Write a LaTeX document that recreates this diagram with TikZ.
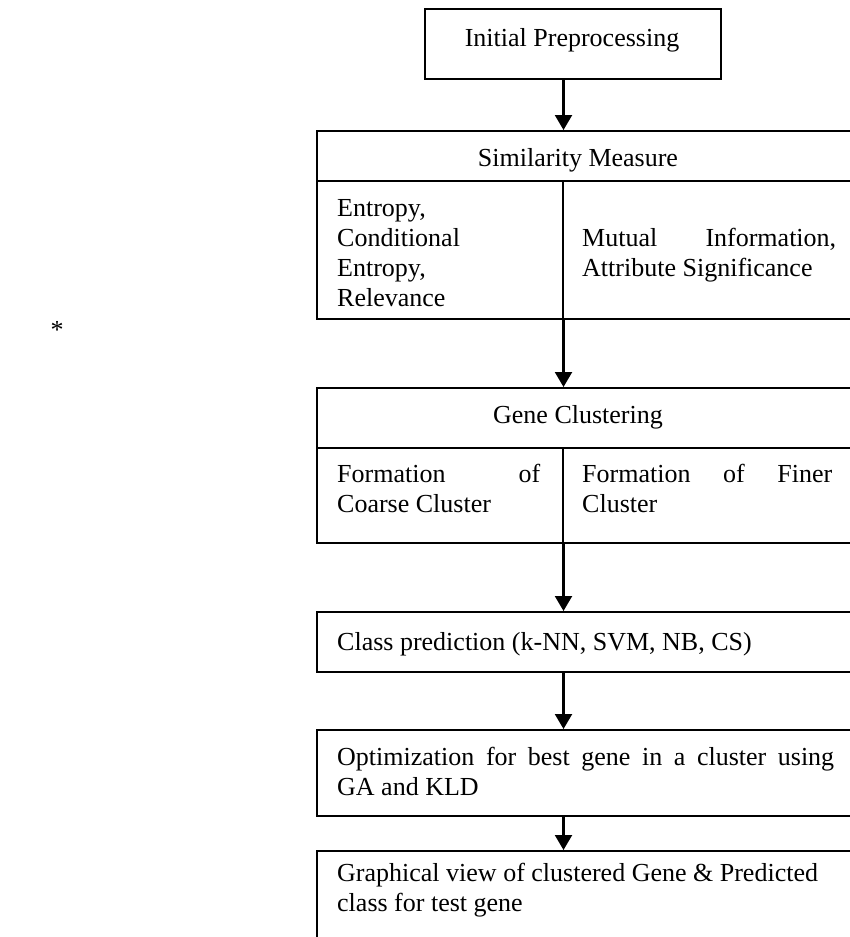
\documentclass[tikz,border=0pt]{standalone}
\usepackage{fontspec}
\setmainfont{Liberation Serif}
\usetikzlibrary{arrows.meta}
\begin{document}
\begin{tikzpicture}[x=1pt,y=-1pt,
  box/.style={draw, line width=1.5pt, rectangle, inner sep=0pt, anchor=north west},
  txt/.style={inner sep=0pt, font=\fontsize{26}{30}\selectfont},
  flow/.style={line width=2.2pt, -{Triangle[width=17pt,length=15pt]}}]
\useasboundingbox (0,0) rectangle (850,937);
\clip (0,0) rectangle (850,937);
% boxes
\node[box, minimum width=296pt, minimum height=70pt] (init) at (424,8) {};
\node[box, minimum width=560pt, minimum height=50pt] (simhead) at (316,130) {};
\node[box, minimum width=246pt, minimum height=138pt] (simL) at (316,180) {};
\node[box, minimum width=314pt, minimum height=138pt] (simR) at (562,180) {};
\node[box, minimum width=560pt, minimum height=60pt] (genehead) at (316,387) {};
\node[box, minimum width=246pt, minimum height=95pt] (geneL) at (316,447) {};
\node[box, minimum width=314pt, minimum height=95pt] (geneR) at (562,447) {};
\node[box, minimum width=560pt, minimum height=60pt] (cls) at (316,611) {};
\node[box, minimum width=560pt, minimum height=86pt] (opt) at (316,729) {};
\node[box, minimum width=560pt, minimum height=140pt] (gra) at (316,850) {};
% texts
\node[txt, anchor=base] (tinit) at (572,46) {Initial Preprocessing};
\node[txt, anchor=base] (tsim) at (578,166) {Similarity Measure};
\node[txt, anchor=base west] (tsimL) at (337,216) {\parbox[t]{203pt}{Entropy,\\Conditional\\Entropy,\\Relevance}};
\node[txt, anchor=base west] (tsimR) at (582,246) {\parbox[t]{254pt}{Mutual\hfill Information,\\Attribute Significance}};
\node[txt, anchor=base] (tgene) at (578,423) {Gene Clustering};
\node[txt, anchor=base west] (tgeneL) at (337,482) {\parbox[t]{203pt}{Formation\hfill of\\Coarse Cluster}};
\node[txt, anchor=base west] (tgeneR) at (582,482) {\parbox[t]{250pt}{Formation\hfill of\hfill Finer\\Cluster}};
\node[txt, anchor=base west] (tcls) at (337,650) {Class prediction (k-NN, SVM, NB, CS)};
\node[txt, anchor=base west] (topt) at (337,765) {\parbox[t]{497pt}{Optimization\hfill for\hfill best\hfill gene\hfill in\hfill a\hfill cluster\hfill using\\GA and KLD}};
\node[txt, anchor=base west] (tgra) at (337,881) {\parbox[t]{497pt}{Graphical view of clustered Gene \& Predicted\\class for test gene}};
\node[txt, anchor=base] (star) at (57,338) {*};
% arrows
\draw[flow] (init.south -| simL.north east) -- (simhead.north -| simL.north east);
\draw[flow] (simL.south east) -- (genehead.north -| simL.south east);
\draw[flow] (geneL.south east) -- (cls.north -| geneL.south east);
\draw[flow] (cls.south -| geneL.south east) -- (opt.north -| geneL.south east);
\draw[flow] (opt.south -| geneL.south east) -- (gra.north -| geneL.south east);
\end{tikzpicture}
\end{document}
